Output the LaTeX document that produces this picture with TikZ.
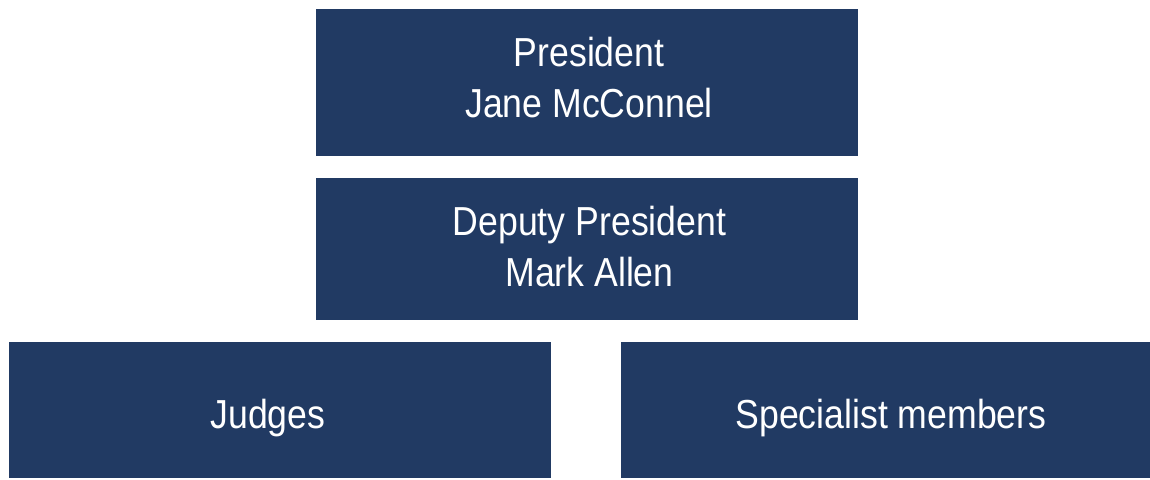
\documentclass[tikz,border=0pt]{standalone}
\usepackage{fontspec}
\setmainfont{Liberation Sans}[FakeStretch=0.88]
\definecolor{boxblue}{HTML}{213A63}
\begin{document}
\begin{tikzpicture}[x=1pt,y=-1pt,
  orgbox/.style={fill=boxblue,draw=none,inner sep=0pt},
  orgtext/.style={text=white,align=center,inner sep=0pt,
    font=\fontsize{40.5}{51}\selectfont}]
\useasboundingbox (0,0) rectangle (1150,479);
\node[orgbox,minimum width=542pt,minimum height=147pt] (pres) at (587,82.5) {};
\node[orgbox,minimum width=542pt,minimum height=142pt] (dep) at (587,249) {};
\node[orgbox,minimum width=542pt,minimum height=136pt] (judges) at (280,410) {};
\node[orgbox,minimum width=529pt,minimum height=136pt] (spec) at (885.5,410) {};
\node[orgtext] (presT) at (589,77.5) {President\\Jane McConnel};
\node[orgtext] (depT) at (589.5,247) {Deputy President\\Mark Allen};
\node[orgtext] (judgesT) at (268,418) {Judges};
\node[orgtext] (specT) at (891,418) {Specialist members};
\end{tikzpicture}
\end{document}
